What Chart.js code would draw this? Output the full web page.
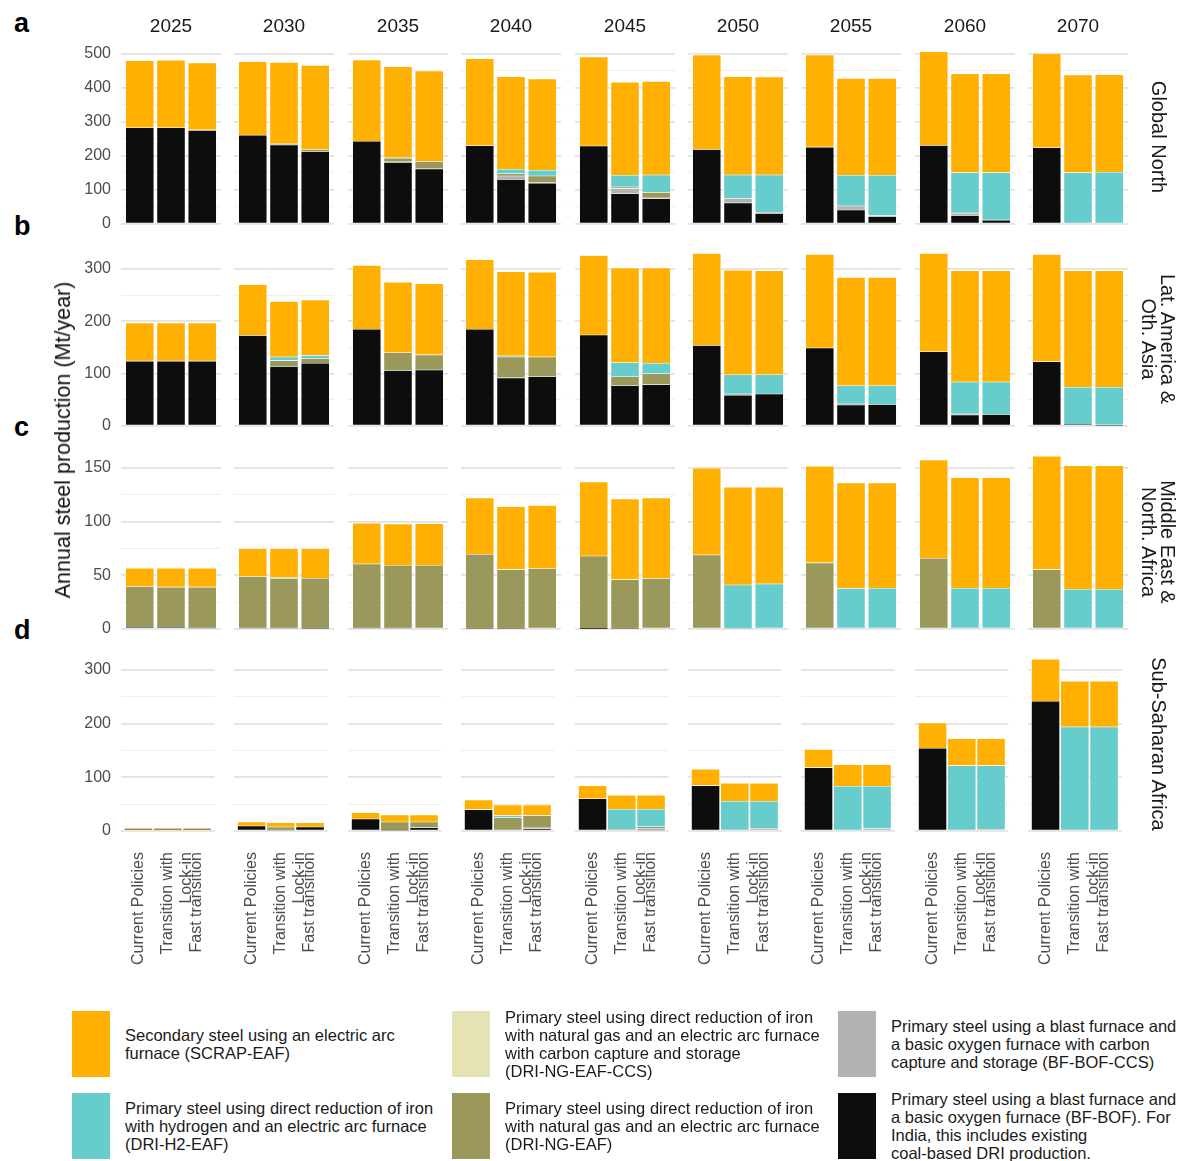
<!DOCTYPE html>
<html>
<head>
<meta charset="utf-8">
<script src="https://cdn.jsdelivr.net/npm/chart.js@4.4.1/dist/chart.umd.min.js"></script>
<style>
  html, body { margin: 0; padding: 0; background: #fff; }
  body { width: 1182px; height: 1161px; position: relative; overflow: hidden;
         font-family: "Liberation Sans", Arial, sans-serif; color: #1a1a1a; }
  .abs { position: absolute; white-space: nowrap; }
  .letter { font-weight: bold; font-size: 27px; line-height: 27px; color: #000; }
  .year { font-size: 19px; line-height: 19px; transform: translateX(-50%); }
  .strip { font-size: 20px; line-height: 19px; text-align: center;
           transform: translate(-50%, -50%) rotate(90deg); }
  .ytitle { font-size: 21.5px; line-height: 22px; color: #111;
            transform: translate(-50%, -50%) rotate(-90deg); }
  .key { position: absolute; width: 38px; height: 66px; }
  .keytext { position: absolute; font-size: 16.5px; line-height: 18px; white-space: nowrap;
             transform: translateY(-50%); color: #1a1a1a; }
</style>
</head>
<body>
<script>
// ---- categories -------------------------------------------------------
const years = ['2025', '2030', '2035', '2040', '2045', '2050', '2055', '2060', '2070'];
const scenarios = ['Current Policies', ['Transition with', 'Lock-in'], 'Fast transition'];
const regionNames = [['Global North'], ['Lat. America &', 'Oth. Asia'], ['Middle East &', 'North. Africa'], ['Sub-Saharan Africa']];
const panelLetters = ['a', 'b', 'c', 'd'];

// ---- series values (Mt/year), per year: Current Policies, Transition with Lock-in, Fast transition
// Global North
const gnBFBOF   = [283,283,275, 261,232,213, 243,181,162, 230,131,120, 229,89,74, 219,62,31, 226,41,22, 231,25,11, 224,0,0];
const gnBFCCS   = [0,0,0, 0,2,0, 0,2,0, 0,10,2, 0,15,2, 0,13,3, 0,12,3, 0,7,1, 0,0,0];
const gnNG      = [0,0,2, 0,2,5, 0,10,22, 0,7,19, 0,5,17, 0,0,0, 0,0,0, 0,0,0, 0,0,0];
const gnNGCCS   = [0,0,0, 0,0,0, 0,0,0, 0,0,0, 0,0,0, 0,0,0, 0,0,0, 0,0,0, 0,0,0];
const gnH2      = [0,0,0, 0,0,0, 0,2,0, 0,13,17, 0,34,51, 0,69,110, 0,90,118, 0,119,139, 0,151,152];
const gnScrap   = [197,198,196, 216,239,248, 239,267,266, 256,272,268, 262,274,275, 278,289,288, 271,285,285, 275,291,291, 277,287,287];
// Lat. America & Oth. Asia
const laBFBOF   = [124,124,124, 173,114,120, 185,106,107, 185,92,94, 174,77,79, 154,59,61, 149,40,41, 142,21,22, 123,3,1];
const laBFCCS   = [0,0,0, 0,0,0, 0,0,0, 0,0,0, 0,0,0, 0,2,0, 0,2,0, 0,2,0, 0,0,1];
const laNG      = [0,0,0, 0,11,9, 0,34,29, 0,40,38, 0,17,21, 0,0,0, 0,0,0, 0,0,0, 0,0,0];
const laNGCCS   = [0,0,0, 0,0,0, 0,0,0, 0,0,0, 0,0,0, 0,0,0, 0,0,0, 0,0,0, 0,0,0];
const laH2      = [0,0,0, 0,7,6, 0,0,0, 0,2,0, 0,27,20, 0,37,37, 0,35,36, 0,61,62, 0,71,72];
const laScrap   = [73,73,73, 97,106,106, 122,135,136, 133,161,162, 152,181,182, 176,200,199, 179,207,207, 188,213,213, 205,223,223];
// Middle East & North. Africa
const meBFBOF   = [1.5,1.5,1, 1,1,0.5, 1,1,0, 0.5,0.5,0, 0.3,0.5,0, 0,0,0, 0,0,0, 0,0,0, 0,0,0];
const meBFCCS   = [0,0,0, 0,0,0, 0,0,0, 0,0,0, 0,0,0, 0,0.5,0, 0,0,0, 0,0,0, 0,0,0];
const meNG      = [38,37.5,38, 48,46,46.7, 59.6,58.4,59.4, 69.2,54.8,56.3, 67.7,45.5,47, 69,0,0, 61.6,0,0, 66,0,0, 55.3,0,0];
const meNGCCS   = [0,0,0, 0,0,0, 0,0,0, 0,0,0, 0,0,0, 0,0,0, 0,0,0, 0,0,0, 0,0,0];
const meH2      = [0,0,0, 0,0.8,0, 0,0,0, 0,0,0, 0,0,0, 0,40.5,42, 0,37.8,38, 0,38,38, 0,37,37];
const meScrap   = [17,17.5,17.5, 25.7,27,27.5, 38,38.4,38.6, 52.3,58.7,58.7, 69,75,75, 80.7,91,90, 90,98.2,98, 91.5,103,103, 105.7,115,115];
// Sub-Saharan Africa
const ssBFBOF   = [3,3,3, 9.3,2,7.5, 22.4,1.5,6.2, 39.8,0,3.7, 60,0,2, 84.5,0,0, 118,0,0, 154,0,0, 241.6,0,0];
const ssBFCCS   = [0,0,0, 0,0,0, 0,0,0, 0,0,2, 0,0,3, 0,0,5, 0,0,4.3, 0,0,3, 0,0,0];
const ssNG      = [0,0,0, 0,5.5,0, 0,15.3,10.6, 0,24.8,22.9, 0,3,3, 0,0,0, 0,0,0, 0,0,0, 0,0,0];
const ssNGCCS   = [0,0,0, 0,0,0, 0,0,0, 0,0,0, 0,0,0, 0,0,0, 0,0,0, 0,0,0, 0,0,0];
const ssH2      = [0,0,0, 0,0,0, 0,0,0, 0,3.8,0, 0,37.4,32.4, 0,55.3,50.3, 0,83.2,78.9, 0,121.7,118.7, 0,193.8,193.8];
const ssScrap   = [2.6,2.6,2.6, 7.5,8,8, 11.6,13,13, 18,19.8,19.8, 24.5,26,26, 30.5,33.5,33.5, 34,40.4,40.4, 47,50.3,50.3, 78.4,85.2,85.2];

// ---- y-axis range and tick spacing per region row ------------------------
const yMajorStep = [100, 100, 50, 100];
const yMax = [532, 346, 168.6, 337];

// ---- technologies, bottom of stack first --------------------------------
const techs = [
  { code: 'BF-BOF', color: '#0d0d0d',
    text: ['Primary steel using a blast furnace and', 'a basic oxygen furnace (BF-BOF). For', 'India, this includes existing', 'coal-based DRI production.'] },
  { code: 'BF-BOF-CCS', color: '#b2b2b2',
    text: ['Primary steel using a blast furnace and', 'a basic oxygen furnace with carbon', 'capture and storage (BF-BOF-CCS)'] },
  { code: 'DRI-NG-EAF', color: '#9a985a',
    text: ['Primary steel using direct reduction of iron', 'with natural gas and an electric arc furnace', '(DRI-NG-EAF)'] },
  { code: 'DRI-NG-EAF-CCS', color: '#e5e3b3',
    text: ['Primary steel using direct reduction of iron', 'with natural gas and an electric arc furnace', 'with carbon capture and storage', '(DRI-NG-EAF-CCS)'] },
  { code: 'DRI-H2-EAF', color: '#66cdcc',
    text: ['Primary steel using direct reduction of iron', 'with hydrogen and an electric arc furnace', '(DRI-H2-EAF)'] },
  { code: 'SCRAP-EAF', color: '#ffb000',
    text: ['Secondary steel using an electric arc', 'furnace (SCRAP-EAF)'] },
];

const regionSeries = [
  [gnBFBOF, gnBFCCS, gnNG, gnNGCCS, gnH2, gnScrap],
  [laBFBOF, laBFCCS, laNG, laNGCCS, laH2, laScrap],
  [meBFBOF, meBFCCS, meNG, meNGCCS, meH2, meScrap],
  [ssBFBOF, ssBFCCS, ssNG, ssNGCCS, ssH2, ssScrap],
];

// ---- facet geometry -------------------------------------------------------
const FONT = '"Liberation Sans", Arial, sans-serif';
const PANEL_W = 100, PANEL_H = 181, PAD = 20, AXIS_W = 61, XAXIS_H = 150;
const ROW_TOP = [43, 245, 448, 650];
const colLeft = c => Math.round(121 + 113.4 * c);
const BAR_W = PANEL_W / 3.2 * 0.9;

function addDiv(cls, html, css) {
  const d = document.createElement('div');
  d.className = 'abs ' + cls;
  d.innerHTML = html;
  Object.assign(d.style, css);
  document.body.appendChild(d);
  return d;
}

function makePanel(r, c) {
  const first = c === 0, bottom = r === 3;
  const w = PANEL_W + 2 * PAD + (first ? AXIS_W : 0);
  const h = PANEL_H + 2 * PAD + (bottom ? XAXIS_H : 0);
  const cv = document.createElement('canvas');
  cv.width = w; cv.height = h;
  cv.style.cssText = `position:absolute;left:${colLeft(c) - PAD - (first ? AXIS_W : 0)}px;top:${ROW_TOP[r] - PAD}px;width:${w}px;height:${h}px;`;
  document.body.appendChild(cv);

  const minorStep = yMajorStep[r] / 2;
  const isMajor = v => Math.abs(v / yMajorStep[r] - Math.round(v / yMajorStep[r])) < 1e-6;

  const datasets = techs.map((t, k) => ({
    label: t.code,
    data: [0, 1, 2].map(s => ({ x: s + 1, y: regionSeries[r][k][c * 3 + s] })),
    backgroundColor: t.color,
    borderColor: 'rgba(255,255,255,0.65)',
    borderWidth: 0.6,
    borderSkipped: false,
    barThickness: BAR_W,
  }));

  new Chart(cv, {
    type: 'bar',
    data: { datasets },
    options: {
      responsive: false, animation: false, devicePixelRatio: 1, events: [],
      layout: { padding: PAD },
      plugins: { legend: { display: false }, tooltip: { enabled: false } },
      scales: {
        x: {
          type: 'linear', min: 0.4, max: 3.6, offset: false, stacked: true,
          display: bottom,
          grid: { display: false, drawTicks: false },
          border: { display: false },
          afterBuildTicks: s => { s.ticks = [1, 2, 3].map(v => ({ value: v })); },
          afterFit: s => { s.height = bottom ? XAXIS_H : 0; },
          ticks: {
            autoSkip: false, minRotation: 90, maxRotation: 90, padding: 21,
            color: '#4d4d4d', font: { family: FONT, size: 16, lineHeight: 1.2 },
            callback: v => scenarios[Math.round(v) - 1],
          },
        },
        y: {
          type: 'linear', min: 0, max: yMax[r], stacked: true, position: 'left',
          grid: {
            drawTicks: false,
            color: ctx => (ctx.tick && isMajor(ctx.tick.value)) ? '#e2e2e2' : '#efefef',
            lineWidth: ctx => (ctx.tick && isMajor(ctx.tick.value)) ? 1.8 : 1.1,
          },
          border: { display: false },
          afterBuildTicks: s => {
            const ticks = [];
            for (let v = 0; v <= yMax[r]; v += minorStep) ticks.push({ value: v });
            s.ticks = ticks;
          },
          afterFit: s => { s.width = first ? AXIS_W : 0; },
          ticks: {
            display: first, autoSkip: false,
            padding: 10, color: '#4d4d4d', font: { family: FONT, size: 16 },
            callback: v => isMajor(v) ? String(v) : '',
          },
        },
      },
    },
  });
}

for (let r = 0; r < 4; r++) for (let c = 0; c < years.length; c++) makePanel(r, c);

// year strip on top
years.forEach((y, c) => addDiv('year', y, { left: (colLeft(c) + PANEL_W / 2) + 'px', top: '16px' }));

// region strips on the right
regionNames.forEach((lines, r) => addDiv('strip', lines.join('<br>'),
  { left: '1158px', top: (ROW_TOP[r] + PANEL_H / 2 + 3) + 'px' }));

// panel letters
const letterTop = [10, 213, 414, 617];
panelLetters.forEach((l, r) => addDiv('letter', l, { left: '14px', top: letterTop[r] + 'px' }));

// y-axis title
addDiv('ytitle', 'Annual steel production (Mt/year)', { left: '63px', top: '440px' });

// legend: columns of (top, bottom) entries
const legendGrid = [['SCRAP-EAF', 'DRI-H2-EAF'], ['DRI-NG-EAF-CCS', 'DRI-NG-EAF'], ['BF-BOF-CCS', 'BF-BOF']];
const legendX = [72, 452, 838];
const legendY = [1011, 1093];
legendGrid.forEach((col, ci) => col.forEach((code, ri) => {
  const t = techs.find(tt => tt.code === code);
  const key = document.createElement('div');
  key.className = 'key';
  Object.assign(key.style, { left: legendX[ci] + 'px', top: legendY[ri] + 'px', background: t.color });
  document.body.appendChild(key);
  const tx = document.createElement('div');
  tx.className = 'keytext';
  tx.innerHTML = t.text.join('<br>');
  Object.assign(tx.style, { left: (legendX[ci] + 53) + 'px', top: (legendY[ri] + 33) + 'px' });
  document.body.appendChild(tx);
}));
</script>
</body>
</html>
